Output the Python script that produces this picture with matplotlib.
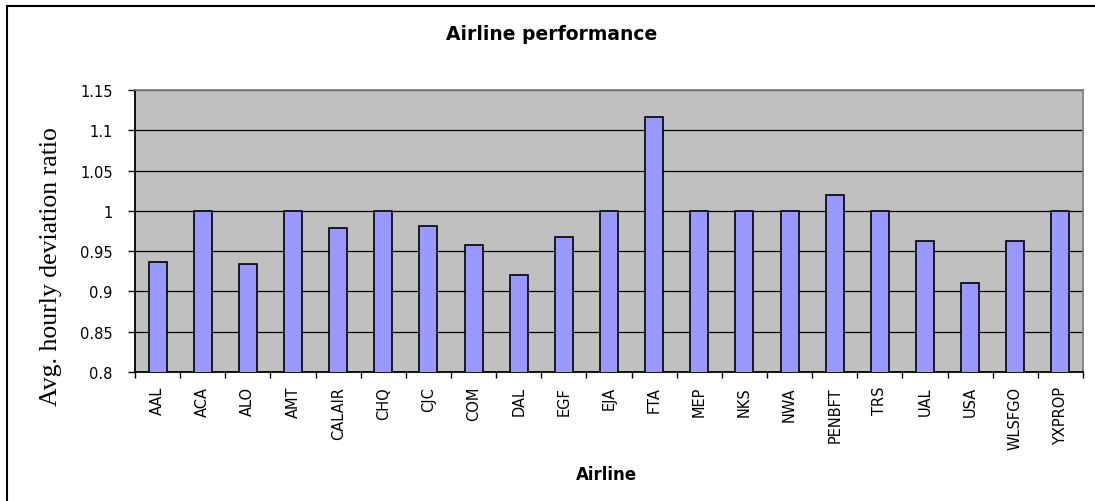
import matplotlib
matplotlib.use("Agg")
import matplotlib.pyplot as plt
from matplotlib.patches import Rectangle
import numpy as np

airlines = ["AAL", "ACA", "ALO", "AMT", "CALAIR", "CHQ", "CJC", "COM", "DAL", "EGF",
            "EJA", "FTA", "MEP", "NKS", "NWA", "PENBFT", "TRS", "UAL", "USA", "WLSFGO", "YXPROP"]
ratios = [0.937, 1.0, 0.934, 1.0, 0.979, 1.0, 0.981, 0.958, 0.920, 0.967,
          1.0, 1.117, 1.0, 1.0, 1.0, 1.020, 1.0, 0.963, 0.911, 0.963, 1.0]
y_ticks = [0.8, 0.85, 0.9, 0.95, 1.0, 1.05, 1.1, 1.15]
y_tick_labels = ["0.8", "0.85", "0.9", "0.95", "1", "1.05", "1.1", "1.15"]

W, H = 1095, 502
fig = plt.figure(figsize=(W / 100, H / 100), dpi=100)
fig.patch.set_facecolor("white")

# chart-area border (only left and top visible in the reference)
fig.patches.append(Rectangle((7 / W, -0.2), 1.2, 1.2 - 7 / H, transform=fig.transFigure,
                             fill=False, edgecolor="black", linewidth=1.5, zorder=0))

left, right = 135 / W, 1083 / W
bottom, top = 1 - 373 / H, 1 - 91 / H
ax = fig.add_axes([left, bottom, right - left, top - bottom])
ax.set_facecolor("#C0C0C0")

x = np.arange(len(airlines))
ax.bar(x, ratios, width=0.4, color="#9999FF", edgecolor="black", linewidth=1.2, zorder=3)

ax.set_xlim(-0.5, len(airlines) - 0.5)
ax.set_ylim(0.8, 1.15)

ax.set_yticks(y_ticks)
ax.set_yticklabels(y_tick_labels, fontsize=10.5, family="DejaVu Sans")
ax.yaxis.grid(True, color="black", linewidth=0.9, zorder=1)
ax.set_axisbelow(True)
ax.tick_params(axis="y", direction="out", length=5, width=1, pad=11, colors="black")

ax.set_xticks(np.arange(-0.5, len(airlines)), minor=False)
ax.set_xticklabels([])
ax.set_xticks(x, minor=True)
ax.set_xticklabels(airlines, minor=True, rotation=90, fontsize=10.5, family="DejaVu Sans")
ax.tick_params(axis="x", which="major", direction="out", length=4, width=1)
ax.tick_params(axis="x", which="minor", length=0, pad=10)

for s in ["left", "bottom"]:
    ax.spines[s].set_color("black")
    ax.spines[s].set_linewidth(1.3)
for s in ["top", "right"]:
    ax.spines[s].set_color("#808080")
    ax.spines[s].set_linewidth(1.3)

fig.text(552 / W, 1 - 34.5 / H, "Airline performance", ha="center", va="center",
         fontsize=13.5, fontweight="bold", family="DejaVu Sans")
fig.text(606 / W, 1 - 475 / H, "Airline", ha="center", va="center",
         fontsize=12, fontweight="bold", family="DejaVu Sans")
fig.text(51 / W, 1 - 267 / H, "Avg. hourly deviation ratio", ha="center", va="center",
         rotation=90, fontsize=18.5, family="Liberation Serif")

fig.savefig("out.png", dpi=100)
